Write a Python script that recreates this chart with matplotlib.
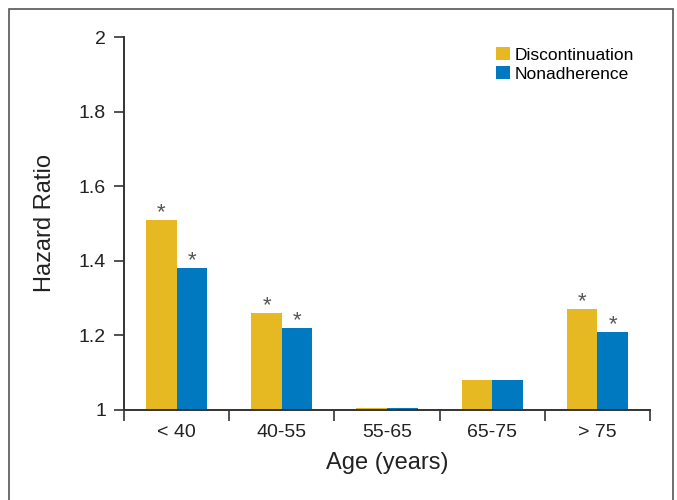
import matplotlib
matplotlib.use("Agg")
import numpy as np
import matplotlib.pyplot as plt
from matplotlib.patches import Rectangle

plt.rcParams['font.family'] = ['Liberation Sans Narrow', 'Liberation Sans', 'DejaVu Sans']

age_groups = ["< 40", "40-55", "55-65", "65-75", "> 75"]
discontinuation = [1.51, 1.26, 1.005, 1.08, 1.27]
nonadherence = [1.38, 1.22, 1.005, 1.08, 1.21]
disc_sig = [True, True, False, False, True]
nonadh_sig = [True, True, False, False, True]

yellow = "#E6B821"
blue = "#0079C1"

fig = plt.figure(figsize=(6.77, 5), dpi=100)
ax = fig.add_axes([124 / 677, 1 - 410 / 500, (650 - 124) / 677, (410 - 37) / 500])

# gray frame around the figure
fig.patches.append(Rectangle((8.5 / 677, -0.02), 664 / 677, 1.0 - 8.5 / 500 + 0.02,
                             transform=fig.transFigure, fill=False,
                             edgecolor="#555555", linewidth=1.2))

x = np.arange(len(age_groups))
w = 0.29
ax.bar(x - w / 2, np.array(discontinuation) - 1, w, bottom=1, color=yellow, label="Discontinuation")
ax.bar(x + w / 2, np.array(nonadherence) - 1, w, bottom=1, color=blue, label="Nonadherence")

for i in range(len(x)):
    if disc_sig[i]:
        ax.text(x[i] - w / 2, discontinuation[i] + 0.02, "*", ha="center", va="center",
                fontsize=16, color="#555555")
    if nonadh_sig[i]:
        ax.text(x[i] + w / 2, nonadherence[i] + 0.02, "*", ha="center", va="center",
                fontsize=16, color="#555555")

ax.set_xlim(-0.5, len(x) - 0.5)
ax.set_ylim(1, 2)
ax.set_yticks([1, 1.2, 1.4, 1.6, 1.8, 2])
ax.set_yticklabels(["1", "1.2", "1.4", "1.6", "1.8", "2"])
ax.set_xticks(x)
ax.set_xticklabels(age_groups)
ax.set_xticks(np.arange(len(x) + 1) - 0.5, minor=True)
ax.tick_params(axis="x", which="major", length=0, pad=10, labelsize=14, labelcolor="#222222")
ax.tick_params(axis="x", which="minor", length=8, width=1.2, direction="out", color="#333333")
ax.tick_params(axis="y", length=7, width=1.2, pad=6, labelsize=14, labelcolor="#222222",
               color="#333333")

for s in ["top", "right"]:
    ax.spines[s].set_visible(False)
for s in ["left", "bottom"]:
    ax.spines[s].set_linewidth(1.4)
    ax.spines[s].set_color("#333333")

ax.set_xlabel("Age (years)", fontsize=17, labelpad=8, color="#222222")
ax.set_ylabel("Hazard Ratio", fontsize=17, labelpad=16, color="#222222")

leg = ax.legend(loc="upper right", bbox_to_anchor=(1.0, 1.015), frameon=False,
                fontsize=12.5, handlelength=0.8, handleheight=0.8, handletextpad=0.3,
                labelspacing=0.2)

fig.savefig("out.png", dpi=100)
